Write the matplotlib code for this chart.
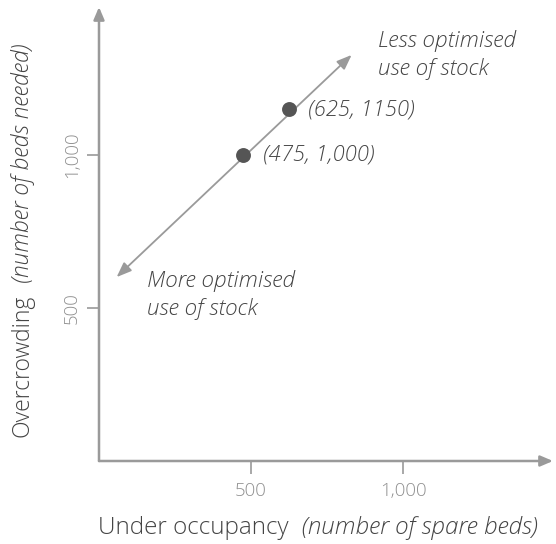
import matplotlib.pyplot as plt

# data points
point_x = [475, 625]
point_y = [1000, 1150]
point_labels = ['(475, 1,000)', '(625, 1150)']

# direction arrow (tail, head)
arrow_x = [58, 831]
arrow_y = [601, 1327]

x_ticks = [500, 1000]
x_tick_labels = ['500', '1,000']
y_ticks = [500, 1000]
y_tick_labels = ['500', '1,000']

axis_col = '#9a9a9a'
text_col = '#444444'
dot_col = '#555555'

plt.rcParams['font.family'] = ['Open Sans', 'DejaVu Sans']
plt.rcParams['font.weight'] = 'light'

W, H = 556, 544
fig = plt.figure(figsize=(W / 100, H / 100), dpi=100)

# origin at pixel (99, 461)
x0, y0 = 99, 461
sx, sy = 0.304, 0.306
xmax, ymax = 1500, 1500
ax = fig.add_axes([x0 / W, (H - y0) / H, xmax * sx / W, ymax * sy / H])
ax.set_xlim(0, xmax)
ax.set_ylim(0, ymax)
ax.patch.set_alpha(0)
for s in ax.spines.values():
    s.set_visible(False)

# axes with arrow heads
head = '-|>,head_length=0.75,head_width=0.32'
ax.annotate('', xy=((553 - x0) / sx, 0), xytext=(0, 0),
            arrowprops=dict(arrowstyle=head, color=axis_col, lw=1.8,
                            shrinkA=0, shrinkB=0))
ax.annotate('', xy=(0, (y0 - 7) / sy), xytext=(0, 0),
            arrowprops=dict(arrowstyle=head, color=axis_col, lw=1.8,
                            shrinkA=0, shrinkB=0))

ax.set_xticks(x_ticks)
ax.set_xticklabels(x_tick_labels)
ax.set_yticks(y_ticks)
ax.set_yticklabels(y_tick_labels, rotation=90, va='center')
ax.tick_params(direction='out', length=9, width=1.2, color=axis_col,
               labelcolor='#909090', labelsize=13.5)
ax.tick_params(axis='x', pad=6)
ax.tick_params(axis='y', pad=4)

# diagonal double arrow
ax.annotate('', xy=(arrow_x[1], arrow_y[1]), xytext=(arrow_x[0], arrow_y[0]),
            arrowprops=dict(arrowstyle='<|-|>,head_length=0.9,head_width=0.35',
                            color=axis_col, lw=1.3, shrinkA=0, shrinkB=0))

ax.scatter(point_x, point_y, s=115, color=dot_col, zorder=5, linewidths=0)
for px, py, lab in zip(point_x, point_y, point_labels):
    ax.annotate(lab, xy=(px, py), xytext=(14, 0), textcoords='offset points',
                va='center', ha='left', style='italic', fontsize=15.8,
                color=text_col)

ax.text((378 - x0) / sx, (y0 - 55) / sy, 'Less optimised\nuse of stock',
        style='italic', fontsize=16.2, color=text_col, ha='left', va='center',
        linespacing=1.4)
ax.text((147 - x0) / sx, (y0 - 295) / sy, 'More optimised\nuse of stock',
        style='italic', fontsize=16.2, color=text_col, ha='left', va='center',
        linespacing=1.4)

# axis titles, mixed regular / italic
t1 = fig.text(98 / W, 1 - 534 / H, 'Under occupancy', fontsize=17.5,
              color=text_col, ha='left', va='baseline')
ax.annotate('  (number of spare beds)', xy=(1, 0), xycoords=t1,
            fontsize=17.5, color=text_col, style='italic', ha='left',
            va='bottom', annotation_clip=False)

t2 = fig.text(35 / W, 1 - 437 / H, 'Overcrowding', fontsize=16.5,
              color=text_col, ha='right', va='bottom', rotation=90)
ax.annotate('  (number of beds needed)', xy=(0, 1), xycoords=t2,
            fontsize=16.5, color=text_col, style='italic', ha='left',
            va='bottom', rotation=90, annotation_clip=False)

fig.savefig('out.png', dpi=100)
